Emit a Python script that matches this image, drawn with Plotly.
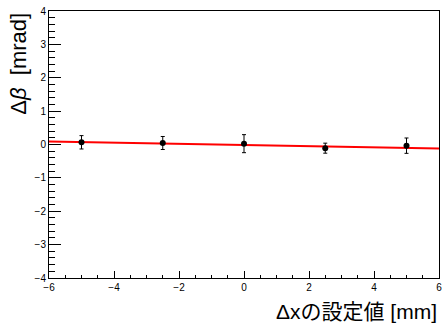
import numpy as np
import plotly.graph_objects as go

# Measured angle shift vs. set displacement
dx_set = [-5.0, -2.5, 0.0, 2.5, 5.0]
dbeta = [0.066, 0.045, 0.025, -0.11, -0.035]
dbeta_err = [0.20, 0.195, 0.27, 0.15, 0.23]

x_range = [-6, 6]
y_range = [-4, 4]

# Weighted linear fit over the points
w = 1.0 / np.array(dbeta_err) ** 2
slope, intercept = np.polyfit(dx_set, dbeta, 1, w=np.sqrt(w))
fit_x = np.array(x_range, dtype=float)
fit_y = intercept + slope * fit_x

font_family = "Liberation Sans, Arial, Helvetica, sans-serif"

fig = go.Figure()
fig.add_trace(go.Scatter(
    x=fit_x, y=fit_y, mode="lines",
    line=dict(color="#ff0000", width=2),
    hoverinfo="skip", showlegend=False,
))
fig.add_trace(go.Scatter(
    x=dx_set, y=dbeta, mode="markers",
    marker=dict(color="black", size=6),
    error_y=dict(type="data", array=dbeta_err, color="black",
                 thickness=1, width=2),
    showlegend=False,
))

fig.update_xaxes(
    range=x_range, dtick=2, tick0=-6,
    ticks="inside", ticklen=7, tickwidth=1, tickcolor="black",
    minor=dict(dtick=0.5, ticks="inside", ticklen=3.5, tickcolor="black"),
    showline=True, linecolor="black", linewidth=1, mirror=True,
    showgrid=False, zeroline=False,
    tickfont=dict(family=font_family, size=10, color="black"),
)
fig.update_yaxes(
    range=y_range, dtick=1, tick0=-4,
    ticks="inside", ticklen=12, tickwidth=1, tickcolor="black",
    minor=dict(dtick=0.2, ticks="inside", ticklen=6, tickcolor="black"),
    showline=True, linecolor="black", linewidth=1, mirror=True,
    showgrid=False, zeroline=False,
    tickfont=dict(family=font_family, size=10, color="black"),
)

fig.add_annotation(
    text="Δ<i>β</i>  [mrad]", xref="paper", yref="paper",
    x=-0.043, y=1.0, xanchor="right", yanchor="top",
    textangle=-90, showarrow=False,
    font=dict(family=font_family, size=22, color="black"),
)
fig.add_annotation(
    text="Δxの設定値 [mm]", xref="paper", yref="paper",
    x=1.0, y=-0.075, xanchor="right", yanchor="top",
    showarrow=False,
    font=dict(family="Liberation Sans, Noto Sans CJK JP, sans-serif",
              size=21, color="black"),
)

fig.update_layout(
    width=446, height=327,
    margin=dict(l=49, r=4, t=11, b=49),
    paper_bgcolor="white", plot_bgcolor="white",
)

fig.write_html("out.html")
